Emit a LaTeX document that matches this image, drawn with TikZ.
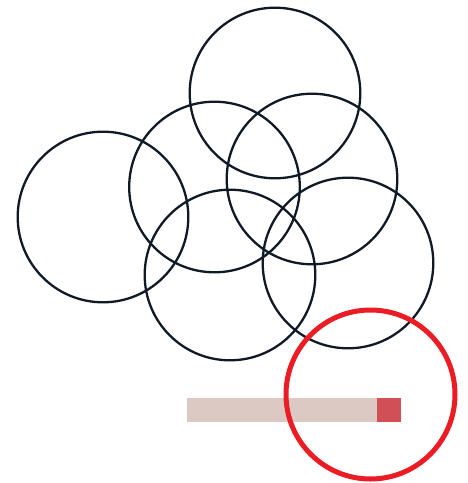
\documentclass[tikz,border=0pt]{standalone}
\usepackage{xcolor}
\usepackage{tikz}
\usetikzlibrary{calc}

\definecolor{ringdark}{HTML}{0F1A26}
\definecolor{ringred}{HTML}{EC1C24}
\definecolor{barpale}{HTML}{DCC9C3}
\definecolor{barred}{HTML}{D14F57}

\begin{document}
\begin{tikzpicture}[x=1pt, y=-1pt,
    ring/.style={draw=ringdark, line width=2.3pt},
    redring/.style={draw=ringred, line width=5pt}]

    % =================================================================
    % 1. KHUNG HINH (468 x 483)
    % =================================================================
    \useasboundingbox (0,0) rectangle (468,483);

    % =================================================================
    % 2. TAM CAC DUONG TRON
    % =================================================================
    \coordinate (Top) at (275,93);
    \coordinate (Left) at (103,217);
    \coordinate (MidL) at (214.5,187);
    \coordinate (MidR) at (312,179);
    \coordinate (Bot) at (230,275);
    \coordinate (Right) at (348,263);
    \coordinate (Red) at (370.5,394.5);

    % =================================================================
    % 3. SAU DUONG TRON DEN
    % =================================================================
    \foreach \c in {Top, Left, MidL, MidR, Bot, Right}
        \draw[ring] (\c) circle (85.3);

    % =================================================================
    % 4. THANH NGANG VA DUONG TRON DO
    % =================================================================
    \fill[barpale] (187,398) rectangle (377,421.5);
    \fill[barred] (377,398) rectangle (401,421.5);

    \draw[redring] (Red) circle (84.5);

\end{tikzpicture}
\end{document}
